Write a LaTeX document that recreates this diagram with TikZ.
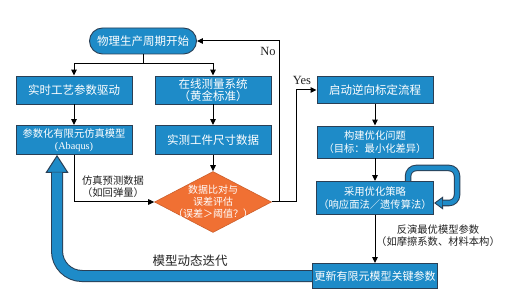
\documentclass[tikz,border=0pt]{standalone}
\usepackage{fontspec}
\setmainfont{Liberation Serif}
\newfontfamily\cjk{Noto Sans CJK SC}
\usetikzlibrary{arrows.meta,shapes.geometric,calc}
\definecolor{Paper}{HTML}{FFFFFF}
\definecolor{Blue}{HTML}{1E8BC8}
\definecolor{Edge}{HTML}{2A3F55}
\definecolor{Orange}{HTML}{F07033}
\definecolor{Ink}{HTML}{222222}

\begin{document}
\begin{tikzpicture}[
    x=1pt, y=-1pt,
    font=\cjk,
    box/.style={
        draw=Edge,
        line width=0.9pt,
        fill=Blue,
        text=white,
        align=center,
        inner sep=2pt,
        minimum width=116pt,
        minimum height=28pt,
        font=\cjk\fontsize{11.5}{13}\selectfont
    },
    boxsmall/.style={
        box,
        font=\cjk\fontsize{10.3}{12.5}\selectfont
    },
    startbox/.style={
        box,
        rounded corners=13pt,
        minimum width=107pt,
        minimum height=26pt
    },
    decision/.style={
        diamond,
        draw=Orange!85!black,
        fill=Orange,
        line width=0.6pt,
        inner sep=0pt,
        minimum width=117pt,
        minimum height=61pt
    },
    decisiontext/.style={
        text=white,
        align=center,
        font=\cjk\fontsize{10}{12}\selectfont
    },
    labeltext/.style={
        text=Ink,
        align=center,
        font=\cjk\fontsize{10.3}{12}\selectfont
    },
    yesno/.style={
        text=Ink,
        font=\rmfamily\fontsize{12.5}{13}\selectfont
    },
    flow/.style={
        -{Triangle[length=6pt,width=5.5pt]},
        line width=1pt,
        draw=black
    },
    pipeedge/.style={
        draw=Edge,
        line width=12pt,
        rounded corners=25pt
    },
    pipecore/.style={
        draw=Blue,
        line width=10pt,
        rounded corners=25pt
    },
    loopedge/.style={
        draw=Edge,
        line width=6.5pt,
        rounded corners=8pt
    },
    loopcore/.style={
        draw=Blue,
        line width=4.5pt,
        rounded corners=8pt
    }
]

% Background
\fill[Paper] (0,0) rectangle (505,296);
\useasboundingbox (0,0) rectangle (505,296);

% ===========================
% Left side: model and measurement
% ===========================

\node[startbox] (start) at (143,41) {物理生产周期开始};

\node[box] (drive) at (74,90) {实时工艺参数驱动};
\node[box, font=\cjk\fontsize{11.5}{12.5}\selectfont] (gauge) at (213,90)
{在线测量系统\\（黄金标准）};

\node[boxsmall, minimum height=29pt] (fem) at (74,140)
{参数化有限元仿真模型\\{\rmfamily (Abaqus)}};
\node[box, minimum height=29pt] (meas) at (213,140) {实测工件尺寸数据};

\node[decision, label={[decisiontext]center:数据比对与\\误差评估\\（误差＞阈值？）}] (cmp) at (213,202) {};

\node[labeltext] (simlbl) at (113,187) {仿真预测数据\\（如回弹量）};

% ===========================
% Right side: inverse calibration
% ===========================

\node[box, minimum height=27pt] (inv) at (375,90) {启动逆向标定流程};
\node[boxsmall, minimum height=32pt] (prob) at (375,142)
{构建优化问题\\（目标：最小化差异）};
\node[boxsmall, minimum height=33pt] (strat) at (375,198)
{采用优化策略\\（响应面法／遗传算法）};
\node[box, minimum width=125pt, minimum height=25pt, font=\cjk\fontsize{11}{12}\selectfont] (upd) at (375,276)
{更新有限元模型关键参数};

\node[labeltext] (invlbl) at (438,236) {反演最优模型参数\\（如摩擦系数、材料本构）};
\node[labeltext, font=\cjk\fontsize{12.5}{13}\selectfont] (iterlbl) at (190,261) {模型动态迭代};

\node[yesno] (nolbl) at (268,51) {No};
\node[yesno] (yeslbl) at (302,80) {Yes};

% Connectors
\coordinate (fork) at (143,64);
\draw[line width=1pt] (start.south) -- (fork);
\draw[flow] (fork) -| (drive.north);
\draw[flow] (fork) -| (gauge.north);
\draw[flow] (drive.south) -- (fem.north);
\draw[flow] (gauge.south) -- (meas.north);
\draw[flow] (meas.south) -- (cmp.north);
\draw[flow] (fem.south) |- (cmp.west);

\draw[flow] (cmp.east) -- ++(8,0) |- (start.east);
\draw[flow] (cmp.east) -- ++(25,0) |- (inv.west);

\draw[flow] (inv.south) -- (prob.north);
\draw[flow] (prob.south) -- (strat.north);
\draw[flow] (strat.south) -- (upd.north);

% Strategy self loop
\coordinate (loopturn) at (457,168);
\draw[loopedge, -{Triangle[length=9pt,width=13pt,line width=0.9pt,fill=Blue]}]
($(strat.north east)+(-26,0)$) |- (loopturn) |- ($(strat.east)+(0,5)$);
\draw[loopcore, shorten >=8.5pt]
($(strat.north east)+(-26,0)$) |- (loopturn) |- ($(strat.east)+(0,5)$);

% Model iteration pipe
\draw[pipeedge, -{Triangle[length=18pt,width=23pt,line width=1pt,fill=Blue]}]
(upd.west) -| ($(fem.south)+(-17,0)$);
\draw[pipecore, shorten >=17.5pt]
(upd.west) -| ($(fem.south)+(-17,0)$);

\end{tikzpicture}
\end{document}
